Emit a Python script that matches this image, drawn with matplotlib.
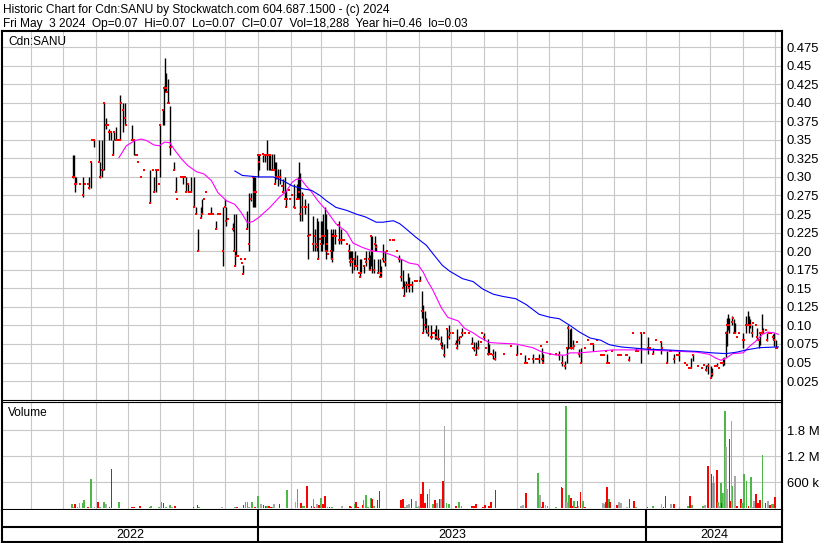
import matplotlib
matplotlib.use('Agg')
import matplotlib.pyplot as plt
import matplotlib.dates as mdates
import numpy as np
import pandas as pd

plt.rcParams['font.family'] = ['Liberation Sans', 'DejaVu Sans']

# day offsets are calendar days after 2022-07-01
start = mdates.date2num(pd.Timestamp('2022-07-01'))

bar_day = [10, 11, 12, 13, 16, 19, 21, 24, 25, 27,
           28, 30, 34, 35, 37, 38, 39, 41, 43, 44,
           46, 47, 48, 50, 52, 54, 55, 57, 59, 60,
           65, 67, 69, 70, 71, 74, 77, 82, 85, 86,
           88, 90, 91, 92, 94, 95, 96, 97, 98, 99,
           100, 101, 102, 105, 107, 108, 111, 113, 115, 116,
           118, 119, 121, 124, 125, 127, 130, 131, 133, 135,
           138, 140, 141, 144, 146, 148, 151, 153, 154, 156,
           160, 161, 162, 163, 165, 168, 169, 170, 172, 173,
           175, 177, 179, 180, 181, 182, 184, 185, 186, 188,
           190, 191, 192, 194, 195, 197, 199, 200, 201, 203,
           204, 206, 207, 209, 210, 211, 213, 214, 216, 218,
           219, 220, 221, 222, 223, 225, 226, 228, 229, 231,
           233, 235, 237, 238, 239, 240, 242, 243, 244, 245,
           247, 248, 249, 250, 252, 253, 254, 256, 257, 259,
           260, 261, 262, 264, 265, 267, 269, 270, 271, 272,
           274, 275, 276, 277, 279, 280, 281, 283, 284, 285,
           288, 289, 290, 291, 293, 294, 295, 297, 298, 299,
           301, 303, 305, 308, 311, 312, 314, 316, 318, 320,
           321, 323, 325, 326, 328, 329, 331, 333, 336, 338,
           339, 341, 342, 344, 346, 347, 348, 350, 351, 353,
           354, 356, 357, 359, 361, 363, 364, 367, 370, 371,
           373, 375, 376, 378, 382, 385, 386, 387, 389, 391,
           393, 394, 396, 398, 400, 401, 403, 405, 407, 415,
           422, 427, 431, 435, 437, 439, 442, 445, 447, 448,
           450, 451, 452, 455, 458, 464, 467, 470, 472, 474,
           475, 477, 478, 480, 481, 484, 486, 487, 491, 494,
           497, 499, 502, 506, 507, 509, 511, 512, 514, 517,
           522, 524, 525, 530, 531, 533, 536, 539, 541, 544,
           547, 550, 552, 555, 558, 563, 564, 568, 571, 572,
           575, 578, 580, 585, 587, 589, 591, 593, 597, 601,
           603, 605, 607, 610, 611, 613, 615, 617, 619, 621,
           622, 624, 625, 626, 627, 629, 630, 631, 632, 634,
           636, 640, 641, 643, 644, 645, 646, 648, 649, 652,
           653, 655, 656, 658, 659, 661, 662, 664, 666, 668,
           669, 671, 672]

bar_hi = [.33, .33, .30, .30, .29, .30, .29, .29, .30, .32,
          .35, .35, .35, .32, .35, .31, .40, .38, .37, .365,
          .36, .35, .36, .367, .35, .41, .40, .40, .40, .37,
          .37, .35, .33, .33, .32, .30, .31, .31, .31, .30,
          .31, .31, .29, .37, .39, .423, .46, .44, .415, .432,
          .40, .396, .34, .32, .30, .27, .30, .30, .30, .30,
          .29, .28, .30, .30, .26, .23, .26, .27, .27, .28,
          .25, .26, .25, .24, .25, .25, .26, .27, .26, .244,
          .238, .25, .20, .25, .193, .189, .184, .182, .189, .254,
          .278, .278, .30, .30, .30, .28, .33, .331, .33, .33,
          .331, .33, .35, .331, .331, .331, .331, .32, .32, .311,
          .311, .288, .297, .30, .282, .27, .283, .27, .275, .29,
          .258, .29, .30, .32, .305, .28, .275, .27, .259, .265,
          .222, .247, .23, .21, .245, .24, .217, .24, .24, .25,
          .259, .25, .23, .196, .23, .225, .23, .23, .22, .235,
          .24, .215, .23, .215, .215, .21, .21, .20, .20, .20,
          .19, .20, .18, .195, .17, .19, .19, .18, .19, .20,
          .20, .195, .22, .22, .19, .22, .21, .19, .19, .18,
          .21, .20, .20, .215, .215, .215, .20, .195, .19, .175,
          .16, .16, .17, .165, .155, .16, .16, .16, .167, .147,
          .127, .12, .11, .10, .10, .085, .09, .095, .10, .095,
          .082, .086, .077, .075, .095, .10, .09, .09, .08, .095,
          .086, .085, .097, .09, .09, .084, .07, .077, .077, .08,
          .078, .09, .09, .07, .082, .075, .062, .068, .066, .062,
          .072, .073, .062, .06, .05, .055, .062, .055, .055, .062,
          .072, .07, .062, .078, .062, .062, .066, .06, .052, .07,
          .10, .095, .097, .08, .072, .078, .068, .07, .07, .08,
          .075, .075, .08, .06, .06, .06, .065, .061, .05, .065,
          .06, .06, .06, .06, .06, .059, .09, .07, .065, .09,
          .09, .085, .07, .07, .081, .079, .07, .065, .065, .065,
          .061, .06, .067, .05, .047, .043, .056, .061, .045, .043,
          .047, .047, .049, .045, .043, .045, .049, .043, .05, .056,
          .058, .092, .11, .115, .11, .112, .11, .108, .103, .085,
          .09, .09, .081, .112, .12, .112, .108, .10, .103, .10,
          .097, .081, .09, .115, .097, .094, .09, .09, .09, .088,
          .09, .081, .07]

bar_lo = [.298, .30, .28, .29, .29, .273, .29, .29, .284, .285,
          .35, .34, .32, .298, .30, .31, .31, .365, .37, .35,
          .35, .33, .35, .35, .35, .35, .40, .36, .37, .37,
          .35, .33, .33, .33, .32, .30, .31, .265, .31, .28,
          .28, .31, .29, .30, .37, .37, .414, .414, .415, .40,
          .40, .33, .34, .31, .28, .27, .30, .29, .30, .28,
          .28, .28, .28, .26, .25, .20, .245, .25, .27, .28,
          .25, .25, .25, .23, .25, .25, .18, .26, .234, .244,
          .227, .20, .18, .193, .193, .189, .184, .169, .189, .23,
          .20, .267, .26, .26, .26, .28, .30, .31, .33, .32,
          .32, .33, .31, .31, .31, .31, .31, .29, .297, .288,
          .29, .288, .28, .27, .26, .27, .283, .27, .275, .259,
          .258, .27, .27, .27, .24, .24, .275, .25, .259, .19,
          .222, .20, .20, .21, .20, .19, .217, .20, .20, .21,
          .20, .19, .20, .196, .19, .185, .20, .21, .22, .235,
          .21, .215, .21, .215, .215, .21, .19, .18, .19, .17,
          .175, .18, .18, .175, .17, .165, .17, .17, .19, .18,
          .175, .175, .18, .17, .17, .20, .20, .17, .165, .165,
          .185, .18, .20, .215, .215, .215, .20, .185, .16, .15,
          .14, .145, .15, .145, .155, .145, .16, .16, .16, .11,
          .09, .095, .09, .086, .082, .085, .09, .082, .082, .08,
          .082, .072, .068, .057, .07, .082, .09, .09, .075, .068,
          .075, .085, .086, .09, .09, .075, .07, .066, .06, .068,
          .078, .09, .08, .07, .06, .062, .062, .055, .053, .062,
          .072, .06, .062, .05, .05, .055, .05, .055, .055, .05,
          .072, .052, .05, .078, .062, .062, .053, .045, .041, .05,
          .068, .07, .068, .068, .072, .078, .057, .05, .07, .08,
          .075, .065, .08, .06, .06, .06, .065, .05, .05, .065,
          .06, .06, .06, .06, .06, .052, .09, .065, .065, .05,
          .09, .061, .07, .061, .081, .061, .07, .05, .065, .065,
          .05, .06, .052, .05, .047, .043, .043, .052, .045, .043,
          .047, .038, .034, .029, .032, .045, .045, .043, .05, .045,
          .047, .058, .072, .094, .09, .10, .11, .09, .09, .085,
          .09, .07, .081, .09, .10, .09, .097, .085, .103, .10,
          .081, .07, .074, .09, .09, .094, .079, .09, .09, .081,
          .072, .07, .07]

bar_cl = [.30, .30, .29, .29, .29, .275, .29, .29, .285, .32,
          .35, .35, .32, .30, .31, .31, .40, .37, .37, .36,
          .36, .33, .36, .35, .35, .35, .40, .39, .38, .37,
          .35, .35, .33, .33, .32, .30, .31, .265, .31, .28,
          .31, .31, .29, .37, .39, .42, .42, .42, .415, .40,
          .40, .34, .34, .31, .28, .27, .30, .30, .30, .28,
          .29, .28, .28, .26, .25, .20, .245, .25, .27, .28,
          .25, .25, .25, .23, .25, .25, .20, .26, .24, .244,
          .23, .20, .18, .193, .193, .189, .184, .169, .189, .23,
          .21, .27, .30, .28, .28, .28, .33, .32, .33, .331,
          .33, .33, .33, .33, .33, .31, .31, .29, .30, .30,
          .30, .288, .28, .27, .26, .27, .283, .27, .275, .26,
          .258, .27, .27, .28, .25, .26, .275, .26, .259, .22,
          .222, .21, .22, .21, .205, .19, .217, .21, .22, .22,
          .22, .20, .21, .196, .20, .19, .22, .22, .22, .235,
          .215, .215, .215, .215, .215, .21, .20, .185, .19, .185,
          .19, .18, .18, .18, .17, .165, .17, .18, .19, .185,
          .19, .175, .22, .20, .175, .21, .205, .17, .165, .17,
          .19, .185, .20, .215, .215, .215, .20, .19, .165, .15,
          .14, .155, .155, .15, .155, .155, .16, .16, .16, .12,
          .09, .10, .095, .09, .085, .085, .09, .09, .085, .082,
          .082, .075, .07, .06, .095, .085, .09, .09, .075, .07,
          .08, .085, .09, .09, .09, .075, .07, .068, .06, .07,
          .078, .09, .085, .07, .062, .062, .062, .06, .055, .062,
          .072, .06, .062, .05, .05, .055, .055, .055, .055, .055,
          .072, .055, .05, .078, .062, .062, .06, .05, .045, .07,
          .096, .07, .07, .07, .072, .078, .062, .05, .07, .08,
          .075, .075, .08, .06, .06, .06, .065, .05, .05, .065,
          .06, .06, .06, .06, .06, .054, .09, .065, .065, .09,
          .09, .07, .07, .061, .081, .077, .07, .05, .065, .065,
          .055, .06, .06, .05, .047, .043, .043, .06, .045, .043,
          .047, .04, .045, .029, .035, .045, .045, .043, .05, .05,
          .055, .09, .10, .10, .10, .105, .11, .09, .09, .085,
          .09, .081, .081, .10, .10, .10, .10, .09, .103, .10,
          .085, .081, .09, .09, .092, .094, .081, .09, .09, .085,
          .08, .07, .07]

# moving averages as drawn on the reference
ma_short_day = [53, 60, 68, 74, 79, 86, 91, 96, 101, 105, 112, 118, 126, 133,
                140, 146, 154, 162, 168, 174, 179, 185, 195, 204, 210, 216,
                220, 224, 229, 234, 240, 248, 257, 267, 273, 282, 292, 301,
                311, 317, 326, 334, 339, 343, 348, 356, 362, 372, 378, 386,
                392, 401, 411, 426, 442, 451, 464, 473, 477, 486, 502, 517,
                533, 549, 564, 580, 596, 608, 614, 619, 624, 630, 640, 646,
                652, 658, 663, 669, 673]
ma_short = [.326, .342, .349, .351, .349, .343, .342, .347, .346, .337, .324,
            .315, .307, .304, .295, .279, .268, .263, .252, .238, .24, .246,
            .259, .273, .28, .293, .297, .297, .288, .28, .268, .255, .237,
            .226, .211, .205, .20, .199, .194, .19, .184, .182, .172, .16,
            .148, .124, .111, .106, .096, .09, .084, .077, .076, .075, .07,
            .064, .06, .06, .063, .063, .065, .067, .067, .067, .066, .065,
            .064, .061, .056, .053, .056, .062, .063, .072, .079, .088,
            .091, .09, .088]

ma_long_day = [162, 169, 185, 198, 207, 216, 226, 234, 242, 248, 257, 267,
               276, 285, 295, 301, 311, 317, 323, 332, 342, 348, 357, 364,
               376, 386, 395, 405, 414, 426, 436, 448, 458, 467, 477, 486,
               496, 506, 514, 525, 549, 568, 580, 596, 611, 624, 634, 643,
               655, 673]
ma_long = [.308, .302, .30, .30, .295, .288, .284, .282, .275, .268, .259,
           .255, .25, .246, .239, .239, .241, .237, .23, .219, .208, .197,
           .181, .173, .163, .159, .149, .142, .139, .136, .128, .115, .111,
           .109, .10, .091, .083, .08, .074, .071, .068, .067, .066, .065,
           .063, .062, .064, .067, .07, .071]

vol_day = [9, 11, 12, 14, 16, 17, 19, 20, 22, 24,
           27, 30, 33, 35, 36, 39, 41, 44, 46, 48,
           50, 53, 55, 57, 60, 65, 67, 70, 73, 75,
           82, 83, 85, 87, 89, 91, 93, 95, 97, 99,
           101, 103, 106, 108, 110, 112, 114, 116, 118, 121,
           123, 127, 128, 130, 133, 136, 139, 141, 144, 147,
           150, 152, 155, 160, 162, 164, 167, 170, 172, 174,
           175, 178, 181, 184, 186, 187, 189, 191, 192, 194,
           196, 198, 199, 202, 204, 206, 208, 211, 212, 214,
           216, 219, 221, 224, 226, 227, 230, 232, 234, 236,
           237, 239, 241, 243, 245, 247, 249, 251, 253, 256,
           258, 261, 263, 266, 268, 270, 271, 273, 275, 276,
           278, 280, 282, 283, 285, 287, 290, 291, 293, 294,
           296, 298, 299, 301, 303, 306, 313, 315, 316, 318,
           320, 322, 324, 326, 328, 332, 333, 335, 337, 339,
           341, 343, 345, 346, 348, 350, 352, 355, 356, 358,
           359, 361, 363, 367, 370, 373, 375, 381, 385, 387,
           389, 391, 394, 395, 397, 399, 401, 403, 405, 407,
           414, 421, 427, 431, 433, 436, 438, 440, 442, 444,
           446, 447, 449, 451, 452, 454, 456, 464, 469, 470,
           473, 474, 476, 478, 479, 481, 483, 484, 485, 487,
           489, 491, 493, 495, 497, 499, 506, 508, 510, 511,
           512, 514, 515, 517, 519, 521, 523, 525, 529, 531,
           533, 535, 537, 539, 543, 546, 550, 551, 555, 556,
           563, 565, 567, 569, 572, 575, 580, 584, 586, 588,
           590, 592, 595, 597, 600, 602, 604, 607, 610, 611,
           612, 613, 615, 616, 617, 619, 620, 621, 622, 623,
           624, 625, 627, 628, 629, 630, 632, 634, 636, 638,
           639, 641, 643, 645, 647, 648, 650, 652, 654, 656,
           658, 661, 663, 665, 667, 669, 670]

# volume in thousands of shares
vol_k = [100, 30, 100, 23, 123, 8, 123, 190, 8, 30,
         678, 23, 146, 30, 3, 146, 100, 23, 909, 3,
         3, 146, 3, 8, 8, 30, 30, 8, 54, 3,
         30, 54, 3, 8, 8, 30, 146, 123, 30, 8,
         77, 30, 54, 3, 8, 3, 8, 8, 8, 8,
         30, 77, 23, 8, 8, 8, 8, 8, 8, 8,
         30, 8, 8, 3, 30, 30, 8, 77, 146, 146,
         30, 146, 30, 285, 100, 100, 77, 54, 54, 54,
         30, 30, 100, 8, 100, 8, 8, 423, 8, 8,
         8, 146, 447, 123, 54, 54, 516, 8, 54, 215,
         30, 100, 77, 240, 100, 285, 30, 30, 30, 8,
         8, 8, 54, 8, 8, 54, 30, 8, 100, 146,
         30, 8, 77, 190, 310, 30, 240, 215, 54, 8,
         190, 400, 8, 8, 8, 8, 8, 8, 8, 190,
         215, 30, 77, 100, 215, 170, 30, 54, 330, 608,
         123, 330, 447, 8, 100, 190, 123, 215, 215, 630,
         1900, 123, 100, 8, 54, 146, 54, 8, 54, 54,
         100, 8, 8, 23, 77, 8, 54, 146, 8, 423,
         8, 8, 8, 54, 77, 355, 8, 8, 8, 8,
         8, 816, 310, 30, 146, 77, 54, 30, 493, 470,
         2350, 146, 310, 240, 54, 170, 30, 170, 54, 377,
         170, 30, 8, 8, 8, 8, 8, 123, 100, 146,
         493, 215, 146, 8, 8, 77, 146, 123, 8, 30,
         215, 8, 170, 30, 8, 8, 30, 8, 54, 8,
         100, 30, 285, 8, 100, 100, 30, 8, 8, 54,
         285, 77, 8, 8, 8, 54, 77, 978, 793, 577,
         747, 577, 885, 146, 54, 585, 123, 355, 355, 2250,
         1420, 447, 1600, 170, 2020, 516, 747, 54, 8, 215,
         123, 793, 630, 54, 724, 30, 170, 330, 123, 190,
         1230, 123, 170, 77, 100, 100, 260]

# g = up day, r = down day, n = unchanged
vol_dir = ''.join([
    "gnrgnrggnr", "gnrgrgnrrg", "rggrrrrrrn", "ggrrrggrgr", "gnrggrrnnr",
    "rrgggrnnrn", "nnrrgrrrgg", "ngrgnnrrgr", "rgngrnrgrr", "rngrggrrrg",
    "rnrgrrgrgr", "rnnrrrrrgr", "rgrggggrgr", "rrgrggrrnr", "rgnnrngnrr",
    "rrnngrnrnr", "ngggrggnrr", "rggrrnrrgr", "ggrnnrrgnr", "ggnrrnggrr",
    "gngrrgrrnr", "grgrrnrnnr", "rgrnrrnnnn", "rgrggnrngg", "nrrnnrnrrg",
    "rgrrrgnrrn", "gnrgngrgng", "nnrrngnrnr", "gggrgnnrrr", "grnrggr"])

year_labels = ['2022', '2023', '2024']

W, H = 830, 543
x_left, x_right = -57.4, 676.4


def box(l, t, r, b):
    return [l / W, 1 - b / H, (r - l) / W, (b - t) / H]


fig = plt.figure(figsize=(W / 100, H / 100), dpi=100)
ax = fig.add_axes(box(1.5, 31, 782, 400))
axv = fig.add_axes(box(1.5, 402, 782, 510))
axy = fig.add_axes(box(1.5, 510, 782, 541.5))

grid_c = '#c8c8c8'
fs = 8.6
tick_fs = 9.4
thick = 1.5

x_bar = start + np.array(bar_day)
hi = np.array(bar_hi)
lo = np.array(bar_lo)
cl = np.array(bar_cl)

# price panel
ax.vlines(x_bar, lo, hi, color='black', lw=1.0, zorder=3)
ax.plot(x_bar, cl, ls='none', marker='s', ms=1.7, mew=0, color='#ff0000', zorder=4)
ax.plot(start + np.array(ma_short_day), ma_short, color='#ff00ff', lw=0.8, zorder=5)
ax.plot(start + np.array(ma_long_day), ma_long, color='#0000ff', lw=0.8, zorder=5)

ax.set_xlim(start + x_left, start + x_right)
ax.set_ylim(-0.0005, 0.4966)
ticks = np.arange(0.025, 0.48, 0.025)
ax.set_yticks(ticks)
ax.set_yticklabels(['%.3f' % v if round(v * 1000) % 10 else '%.2f' % v
                    for v in ticks])
ax.yaxis.tick_right()
ax.tick_params(axis='y', length=0, pad=3.5, labelsize=tick_fs)
ax.xaxis.set_major_locator(mdates.MonthLocator())
ax.tick_params(axis='x', length=0, labelbottom=False)
ax.grid(True, color=grid_c, lw=0.8)
ax.set_axisbelow(True)
for s in ['top', 'left', 'right']:
    ax.spines[s].set_linewidth(thick)
ax.spines['bottom'].set_linewidth(0.8)

# volume panel
colmap = {'g': '#4cb848', 'r': '#ff0000', 'n': '#a8a8a8'}
vcols = [colmap[c] for c in vol_dir]
axv.bar(start + np.array(vol_day), np.array(vol_k) * 1000, width=1.6,
        color=vcols, linewidth=0, zorder=3)
axv.set_xlim(start + x_left, start + x_right)
axv.set_ylim(-39000, 2.453e6)
axv.set_yticks([600000, 1200000, 1800000])
axv.set_yticklabels(['600 k', '1.2 M', '1.8 M'])
axv.yaxis.tick_right()
axv.tick_params(axis='y', length=0, pad=3.5, labelsize=tick_fs)
axv.xaxis.set_major_locator(mdates.MonthLocator())
axv.tick_params(axis='x', length=0, labelbottom=False)
axv.grid(True, color=grid_c, lw=0.8)
axv.set_axisbelow(True)
for s in ['bottom', 'left', 'right']:
    axv.spines[s].set_linewidth(thick)
axv.spines['top'].set_linewidth(0.8)

# year strip
axy.set_xlim(start + x_left, start + x_right)
axy.set_ylim(0, 1)
axy.set_xticks([])
axy.set_yticks([])
axy.spines['top'].set_visible(False)
for s in ['bottom', 'left', 'right']:
    axy.spines[s].set_linewidth(thick)
axy.axhline(0.47, color='black', lw=thick)
lo_x, hi_x = start + x_left, start + x_right
for yl in year_labels:
    y0 = mdates.date2num(pd.Timestamp(yl + '-01-01'))
    y1 = mdates.date2num(pd.Timestamp(str(int(yl) + 1) + '-01-01'))
    if y0 > lo_x:
        axy.axvline(y0, color='black', lw=thick)
    c = (max(y0, lo_x) + min(y1, hi_x)) / 2
    axy.text(c, 0.2, yl, ha='center', va='center', fontsize=fs + 0.4)

# captions
fig.text(3 / W, 1 - 13.3 / H,
         'Historic Chart for Cdn:SANU by Stockwatch.com 604.687.1500 - (c) 2024',
         fontsize=fs, va='baseline')
fig.text(3 / W, 1 - 27.3 / H,
         'Fri May  3 2024  Op=0.07  Hi=0.07  Lo=0.07  Cl=0.07  Vol=18,288  '
         'Year hi=0.46  lo=0.03', fontsize=fs, va='baseline')
fig.text(8 / W, 1 - 42 / H, 'Cdn:SANU', fontsize=fs, va='center')
fig.text(8 / W, 1 - 413 / H, 'Volume', fontsize=fs, va='center')

fig.savefig('out.png', dpi=100)
